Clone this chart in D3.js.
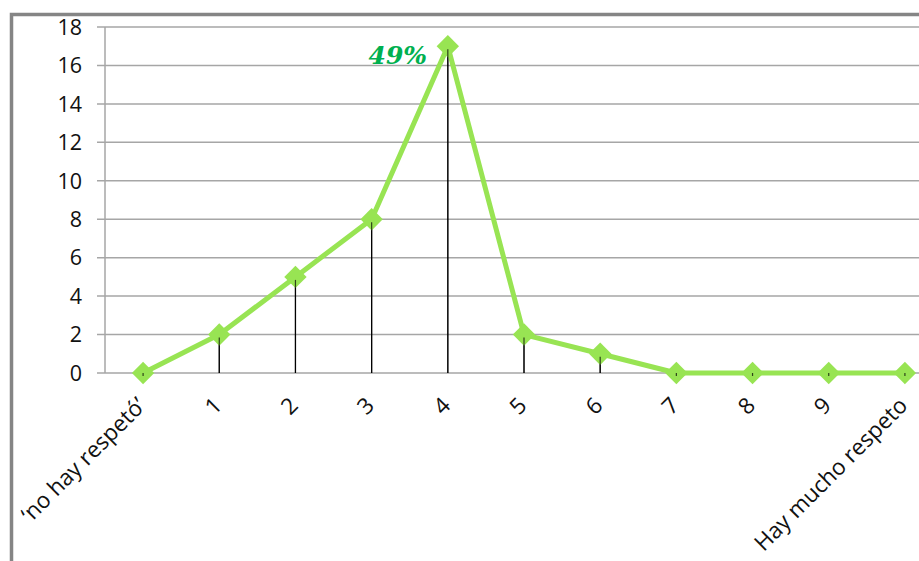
<!DOCTYPE html>
<html><head><meta charset="utf-8">
<script src="https://cdn.jsdelivr.net/npm/d3@7"></script>
<style>body{margin:0;background:#fff;overflow:hidden}</style>
</head><body>
<svg id="c" width="919" height="561"></svg>
<script>
const categories = ["‘no hay respetó’","1","2","3","4","5","6","7","8","9","Hay mucho respeto"];
const values = [0,2,5,8,17,2,1,0,0,0,0];
const yTicks = [0,2,4,6,8,10,12,14,16,18];
const annotation = "49%";

(function(){
const svg = d3.select("#c");
svg.append("rect").attr("x",11.5).attr("y",14.5).attr("width",1000).attr("height",700)
  .attr("fill","none").attr("stroke","#858585").attr("stroke-width",3.5);

const mLeft = 105, mRight = 943, mTop = 27, mBottom = 373;
const x = d3.scalePoint().domain(categories).range([mLeft, mRight]).padding(0.5);
const y = d3.scaleLinear().domain([0,18]).range([mBottom, mTop]);

svg.append("g").selectAll("line").data(yTicks).join("line")
  .attr("x1",97).attr("x2",919).attr("y1",d=>y(d)).attr("y2",d=>y(d))
  .attr("stroke","#a6a6a6").attr("stroke-width",1.5);
svg.append("line").attr("x1",mLeft).attr("x2",mLeft).attr("y1",mTop).attr("y2",mBottom)
  .attr("stroke","#a6a6a6").attr("stroke-width",1.5);

svg.append("g").selectAll("text").data(yTicks).join("text")
  .attr("x",82).attr("y",d=>y(d)).attr("dy","0.36em").attr("text-anchor","end")
  .attr("font-family","Open Sans, sans-serif").attr("font-size",21.5).attr("fill","#111")
  .text(d=>d);

svg.append("g").selectAll("line").data(values).join("line")
  .attr("x1",(d,i)=>x(categories[i])).attr("x2",(d,i)=>x(categories[i]))
  .attr("y1",d=>y(d)).attr("y2",y(0)).attr("stroke","#000").attr("stroke-width",1.2);

const line = d3.line().x((d,i)=>x(categories[i])).y(d=>y(d));
svg.append("path").datum(values).attr("d",line).attr("fill","none")
  .attr("stroke","#98E453").attr("stroke-width",5).attr("stroke-linejoin","round");

svg.append("g").selectAll("path").data(values).join("path")
  .attr("d",d3.symbol().type(d3.symbolSquare).size(250))
  .attr("transform",(d,i)=>`translate(${x(categories[i])},${y(d)}) rotate(45)`)
  .attr("fill","#98E453");

svg.append("g").selectAll("line").data(values).join("line")
  .attr("x1",(d,i)=>x(categories[i])).attr("x2",(d,i)=>x(categories[i]))
  .attr("y1",d=>y(d)+3).attr("y2",y(0)).attr("stroke","#000").attr("stroke-width",1.2)
  .attr("opacity",0.7);

svg.append("g").selectAll("text").data(categories).join("text")
  .attr("text-anchor","end")
  .attr("transform",c=>`translate(${x(c)+4},${y(0)+34}) rotate(-45)`)
  .attr("font-family","Open Sans, sans-serif").attr("font-size",22.5).attr("fill","#111")
  .text(c=>c);

svg.append("text").attr("x",x(categories[4])-50).attr("y",y(values[4])+18)
  .attr("text-anchor","middle").attr("font-family","DejaVu Serif, serif")
  .attr("font-weight","bold").attr("font-style","italic").attr("font-size",25)
  .attr("fill","#00B050").text(annotation);
})();
</script>
</body></html>
